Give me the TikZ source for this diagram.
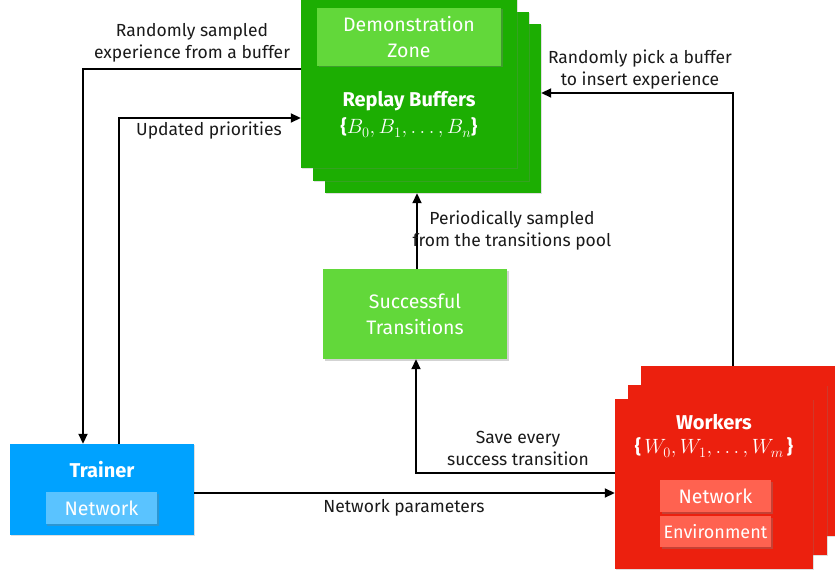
\documentclass[tikz,border=0pt]{standalone}
\usepackage{fontspec}
\setmainfont{Fira Sans}
\usetikzlibrary{shadows,arrows.meta}
\definecolor{rbgreen}{RGB}{28,174,2}
\definecolor{ltgreen}{RGB}{98,216,58}
\definecolor{trblue}{RGB}{0,162,255}
\definecolor{ltblue}{RGB}{90,195,255}
\definecolor{wkred}{RGB}{236,32,14}
\definecolor{ltred}{RGB}{255,98,80}
\definecolor{txt}{RGB}{26,26,26}
\tikzset{
  bigbox/.style={fill=#1, draw=none, inner sep=0pt,
    drop shadow={shadow xshift=1bp, shadow yshift=-1bp, opacity=0.25}},
  subbox/.style={fill=#1, draw=none, inner sep=0pt, text=white,
    font=\fontsize{19.5bp}{26bp}\selectfont, align=center,
    drop shadow={shadow xshift=1.5bp, shadow yshift=-1.5bp, opacity=0.35}},
  boxtitle/.style={text=white, font=\fontsize{20bp}{22bp}\selectfont\bfseries},
  boxmath/.style={text=white, font=\fontsize{19bp}{22bp}\selectfont},
  lbl/.style={text=txt, font=\fontsize{17.5bp}{22bp}\selectfont, align=center},
  arr/.style={draw=black, line width=1.8bp, -{Triangle[length=10bp,width=9bp]}},
}
\begin{document}
\begin{tikzpicture}[x=1bp,y=-1bp]
\useasboundingbox (0,0) rectangle (835,571);
% Replay buffers stack
\node[bigbox=rbgreen, minimum width=216bp, minimum height=169bp] (rb3) at (433,108.5) {};
\node[bigbox=rbgreen, minimum width=216bp, minimum height=169bp] (rb2) at (421,96.5) {};
\node[bigbox=rbgreen, minimum width=216bp, minimum height=170bp] (rb1) at (409,83) {};
\node[subbox=ltgreen, minimum width=184bp, minimum height=58bp] (demo) at (409,37) {Demonstration\\Zone};
\node[boxtitle] (rbt) at (409,101) {Replay Buffers};
\node[boxmath] (rbm) at (409,128) {\textbf{\{}$B_0, B_1, \ldots, B_n$\textbf{\}}};
% Successful transitions
\node[subbox=ltgreen, minimum width=184bp, minimum height=90bp] (st) at (415,314) {Successful\\Transitions};
% Trainer
\node[bigbox=trblue, minimum width=184bp, minimum height=91bp, drop shadow={opacity=0}] (tr) at (102,489.5) {};
\node[boxtitle] (trt) at (102,470) {Trainer};
\node[subbox=ltblue, minimum width=111bp, minimum height=32bp] (trn) at (101.5,508) {Network};
% Workers stack
\node[bigbox=wkred, minimum width=199bp, minimum height=170bp] (wk3) at (740,451) {};
\node[bigbox=wkred, minimum width=199bp, minimum height=170bp] (wk2) at (727.5,470) {};
\node[bigbox=wkred, minimum width=198bp, minimum height=170bp] (wk1) at (714,484) {};
\node[boxtitle] (wkt) at (714,422) {Workers};
\node[boxmath] (wkm) at (714,448) {\textbf{\{}\,$W_0, W_1, \ldots, W_m$\,\textbf{\}}};
\node[subbox=ltred, minimum width=111bp, minimum height=32bp] (wkn) at (715.5,496) {Network};
\node[subbox=ltred, minimum width=111bp, minimum height=31bp, font=\fontsize{18bp}{22bp}\selectfont] (wke) at (715.5,531.5) {Environment};
% connectors
\coordinate (c1) at (83,69);
\draw[arr] (c1 -| rb1.west) -- (c1) -- (c1 |- tr.north);
\coordinate (c2) at (119,118);
\draw[arr] (c2 |- tr.north) -- (c2) -- (c2 -| rb1.west);
\coordinate (c3) at (733,93);
\draw[arr] (c3 |- wk3.north) -- (c3) -- (c3 -| rb3.east);
\coordinate (c4) at (417,0);
\draw[arr] (c4 |- st.north) -- (c4 |- rb3.south);
\coordinate (c5) at (416,473);
\draw[arr] (c5 -| wk1.west) -- (c5) -- (c5 |- st.south);
\coordinate (c6) at (0,493);
\draw[arr] (c6 -| tr.east) -- (c6 -| wk1.west);
% labels
\node[lbl] (l1) at (192,43) {Randomly sampled\\experience from a buffer};
\node[lbl] (l2) at (209,131) {Updated priorities};
\node[lbl] (l3) at (640,70) {Randomly pick a buffer\\to insert experience};
\node[lbl] (l4) at (512,231) {Periodically sampled\\from the transitions pool};
\node[lbl] (l5) at (518,448) {Save every\\success transition};
\node[lbl] (l6) at (404,508) {Network parameters};
\end{tikzpicture}
\end{document}
